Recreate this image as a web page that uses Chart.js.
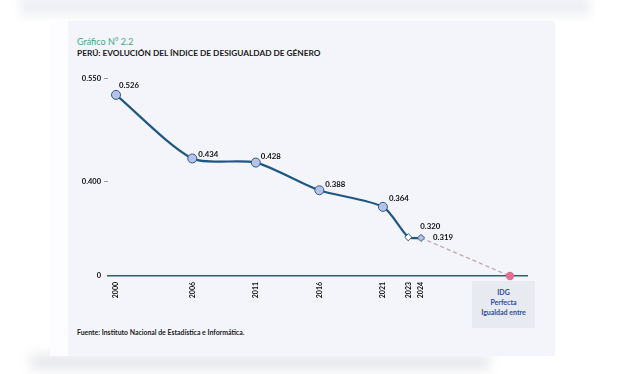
<!DOCTYPE html>
<html>
<head>
<meta charset="utf-8">
<script src="https://cdn.jsdelivr.net/npm/chart.js@4.4.0/dist/chart.umd.min.js"></script>
<style>
    html, body { margin: 0; padding: 0; width: 640px; height: 374px; overflow: hidden; background: #ffffff; font-family: Lato, "Open Sans", sans-serif; }
    .shade-top { position: absolute; left: 20px; top: -4px; width: 570px; height: 20px; background: #eef0f5; filter: blur(5px); }
    .shade-bottom { position: absolute; left: 30px; top: 354px; width: 460px; height: 16px; background: #e8e9ee; filter: blur(6px); }
    .card { position: absolute; left: 50px; top: 21px; width: 505px; height: 335px; background: #f4f5fa; }
    .strip { position: absolute; left: 50px; top: 21px; width: 18px; height: 335px; background: #fdfdff; }
    .title { position: absolute; left: 77px; top: 36px; font-size: 9px; color: #3aa986; }
    .subtitle { position: absolute; left: 77px; top: 48px; font-size: 8.3px; font-weight: bold; color: #1a1a1a; }
    .source { position: absolute; left: 77px; top: 328px; font-size: 6.9px; font-weight: bold; color: #1a1a1a; }
    .idg { position: absolute; left: 472px; top: 281px; width: 63px; height: 47px; box-sizing: border-box; padding-top: 6px;
           background: #e8eaf2; color: #2d4d9c; font-weight: bold; font-size: 7px; line-height: 10px; text-align: center; }
    canvas { position: absolute; left: 0; top: 0; }
</style>
</head>
<body>
<div class="shade-top"></div>
<div class="shade-bottom"></div>
<div class="card"></div>
<div class="strip"></div>
<div class="title">Gráfico N° 2.2</div>
<div class="subtitle">PERÚ: EVOLUCIÓN DEL ÍNDICE DE DESIGUALDAD DE GÉNERO</div>
<div class="source">Fuente: Instituto Nacional de Estadística e Informática.</div>
<div class="idg">IDG<br>Perfecta<br>Igualdad entre</div>
<canvas id="idgChart" width="640" height="374"></canvas>

<script>
// data
const years = [2000, 2006, 2011, 2016, 2021, 2023, 2024];
const idgValues = [0.526, 0.434, 0.428, 0.388, 0.364, 0.320, 0.319];
const targetYears = [2024, 2031];
const targetValues = [0.319, 0];
const yTickValues = [0, 0.400, 0.550];

// label offsets (px) relative to each point
const labelDx = [3, 6, 5, 6, 6, 12, 12];
const labelDy = [-9, -4, -6, -6, -8, -11, 0];

// broken y axis: everything below BREAK_AT is squeezed into the bottom strip
const BREAK_AT = 0.30;
const BREAK_FRAC = 0.121;

class BrokenScale extends Chart.LinearScale {
    getPixelForValue(value) {
        let dec;
        if (value >= BREAK_AT) {
            dec = BREAK_FRAC + (1 - BREAK_FRAC) * (value - BREAK_AT) / (this.max - BREAK_AT);
        } else {
            dec = BREAK_FRAC * (value - this.min) / (BREAK_AT - this.min);
        }
        return this.getPixelForDecimal(dec);
    }
    getValueForPixel(pixel) {
        const dec = this.getDecimalForPixel(pixel);
        if (dec >= BREAK_FRAC) return BREAK_AT + (dec - BREAK_FRAC) / (1 - BREAK_FRAC) * (this.max - BREAK_AT);
        return this.min + dec / BREAK_FRAC * (BREAK_AT - this.min);
    }
}
BrokenScale.id = 'broken';
BrokenScale.defaults = {};
Chart.register(BrokenScale);

const valueLabels = {
    id: 'valueLabels',
    afterDatasetsDraw(chart) {
        const ctx = chart.ctx;
        const meta = chart.getDatasetMeta(1);
        ctx.save();
        ctx.font = 'bold 7.8px Lato, sans-serif';
        ctx.fillStyle = '#111111';
        ctx.textAlign = 'left';
        ctx.textBaseline = 'middle';
        meta.data.forEach((pt, i) => {
            ctx.fillText(idgValues[i].toFixed(3), pt.x + labelDx[i], pt.y + labelDy[i]);
        });
        ctx.restore();
    }
};

const circleFill = '#b7c2e8';

new Chart(document.getElementById('idgChart'), {
    type: 'line',
    data: {
        datasets: [
            {
                label: 'Proyección',
                data: targetYears.map((x, i) => ({ x: x, y: targetValues[i] })),
                borderColor: '#c4a2a9',
                borderWidth: 1.3,
                borderDash: [4, 3],
                pointRadius: [0, 3.5],
                pointBackgroundColor: '#e0708f',
                pointBorderColor: '#e0708f',
                clip: false,
                order: 2
            },
            {
                label: 'IDG',
                data: years.map((x, i) => ({ x: x, y: idgValues[i] })),
                borderColor: '#1f5784',
                borderWidth: 2.2,
                tension: 0.25,
                pointStyle: ['circle', 'circle', 'circle', 'circle', 'circle', 'rectRot', 'rectRot'],
                pointRadius: [4.5, 4.5, 4.5, 4.5, 4.5, 3.6, 3.6],
                pointBackgroundColor: [circleFill, circleFill, circleFill, circleFill, circleFill, '#ffffff', circleFill],
                pointBorderColor: '#2a5a86',
                pointBorderWidth: 1,
                clip: false,
                order: 1
            }
        ]
    },
    options: {
        responsive: false,
        animation: false,
        layout: { padding: { left: 58, right: 113, top: 70, bottom: 68 } },
        plugins: {
            legend: { display: false },
            tooltip: { enabled: false }
        },
        scales: {
            x: {
                type: 'linear',
                min: 1999.37,
                max: 2032.34,
                afterBuildTicks: (scale) => { scale.ticks = years.map(v => ({ value: v })); },
                afterFit: (scale) => { scale.height = 30; },
                grid: { drawOnChartArea: false, drawTicks: false },
                border: { color: '#2e6070', width: 1.5 },
                ticks: {
                    autoSkip: false,
                    minRotation: 90,
                    maxRotation: 90,
                    padding: 6,
                    color: '#111111',
                    font: { family: 'Lato', size: 7, weight: 'bold' },
                    callback: (v) => String(v)
                }
            },
            y: {
                type: 'broken',
                min: 0,
                max: 0.562,
                afterBuildTicks: (scale) => { scale.ticks = yTickValues.map(v => ({ value: v })); },
                afterFit: (scale) => { scale.width = 50; },
                grid: {
                    drawOnChartArea: false,
                    drawTicks: true,
                    tickLength: 4,
                    color: (c) => (c.tick && c.tick.value === 0) ? 'rgba(0,0,0,0)' : '#9a9a9a'
                },
                border: { display: false },
                ticks: {
                    padding: 3,
                    color: '#111111',
                    font: { family: 'Lato', size: 7.5, weight: 'bold' },
                    callback: (v) => v === 0 ? '0' : v.toFixed(3)
                }
            }
        }
    },
    plugins: [valueLabels]
});
</script>
</body>
</html>
